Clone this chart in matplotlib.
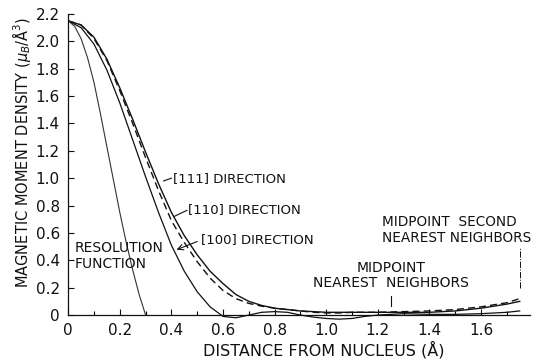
import numpy as np
import matplotlib
matplotlib.use("Agg")
import matplotlib.pyplot as plt

# distance from nucleus (Å) and magnetic moment density (muB/Å^3)
x_dir = [0, 0.05, 0.1, 0.15, 0.2, 0.25, 0.3, 0.35, 0.4, 0.45, 0.5, 0.55, 0.6,
         0.65, 0.7, 0.75, 0.8, 0.85, 0.9, 0.95, 1.0, 1.05, 1.1, 1.15, 1.2,
         1.3, 1.4, 1.5, 1.6, 1.7, 1.75]
dens_111 = [2.15, 2.12, 2.03, 1.87, 1.66, 1.43, 1.19, 0.96, 0.75, 0.58, 0.44,
            0.32, 0.23, 0.15, 0.10, 0.07, 0.05, 0.04, 0.03, 0.025, 0.02, 0.02,
            0.02, 0.02, 0.02, 0.02, 0.02, 0.03, 0.05, 0.08, 0.10]
dens_110 = [2.15, 2.12, 2.02, 1.86, 1.64, 1.40, 1.15, 0.91, 0.69, 0.53, 0.39,
            0.27, 0.18, 0.12, 0.085, 0.065, 0.05, 0.04, 0.03, 0.02, 0.015,
            0.015, 0.02, 0.02, 0.02, 0.025, 0.03, 0.04, 0.06, 0.09, 0.12]
dens_100 = [2.15, 2.10, 1.98, 1.79, 1.55, 1.28, 1.01, 0.75, 0.51, 0.32, 0.17,
            0.06, -0.01, -0.02, 0.0, 0.02, 0.025, 0.02, 0.0, -0.015, -0.025,
            -0.03, -0.025, -0.01, 0.0, 0.01, 0.005, 0.005, 0.01, 0.02, 0.03]

x_res = [0, 0.025, 0.05, 0.075, 0.1, 0.125, 0.15, 0.175, 0.2, 0.225, 0.25,
         0.275, 0.3]
dens_res = [2.15, 2.11, 2.02, 1.88, 1.70, 1.47, 1.23, 0.99, 0.75, 0.53, 0.33,
            0.15, 0.0]

x_ticks = [0, 0.2, 0.4, 0.6, 0.8, 1.0, 1.2, 1.4, 1.6]
x_ticklabels = ["0", "0.2", "0.4", "0.6", "0.8", "1.0", "1.2", "1.4", "1.6"]
y_ticks = [0, 0.2, 0.4, 0.6, 0.8, 1.0, 1.2, 1.4, 1.6, 1.8, 2.0, 2.2]
y_ticklabels = ["0", "0.2", "0.4", "0.6", "0.8", "1.0", "1.2", "1.4", "1.6",
                "1.8", "2.0", "2.2"]

mid_nn = 1.25
mid_2nn = 1.75

plt.rcParams["font.family"] = "DejaVu Sans"
fig = plt.figure(figsize=(5.37, 3.62), dpi=100)
ax = fig.add_axes([0.127, 0.1146, 0.86, 0.8467])

ink = "#111111"
ax.plot(x_dir, dens_111, color=ink, lw=1.0)
ax.plot(x_dir, dens_110, color=ink, lw=1.0, dashes=(5, 3))
ax.plot(x_dir, dens_100, color=ink, lw=0.9)
ax.plot(x_res, dens_res, color="#333333", lw=0.8)

ax.set_xlim(0, 1.79)
ax.set_ylim(-0.04, 2.2)
ax.spines["top"].set_visible(False)
ax.spines["right"].set_visible(False)
ax.spines["bottom"].set_position(("data", 0))
ax.spines["left"].set_bounds(0, 2.2)
for s in ("left", "bottom"):
    ax.spines[s].set_linewidth(0.9)
    ax.spines[s].set_color(ink)

ax.set_xticks(x_ticks)
ax.set_xticklabels(x_ticklabels)
ax.set_xticks(np.arange(0.1, 1.75, 0.2), minor=True)
ax.set_yticks(y_ticks)
ax.set_yticklabels(y_ticklabels)
ax.tick_params(axis="both", direction="in", length=4, width=0.8,
               labelsize=11, colors=ink)
ax.tick_params(axis="x", which="minor", direction="in", length=3, width=0.8)
ax.tick_params(axis="x", pad=6)
ax.tick_params(axis="y", pad=6)

fig.text(0.602, 0.035, "DISTANCE FROM NUCLEUS (Å)", ha="center", va="center",
         fontsize=11.5, color=ink)
fig.text(0.04, 0.58, r"MAGNETIC MOMENT DENSITY ($\mu_B$/Å$^3$)", rotation=90,
         ha="center", va="center", fontsize=10.5, color=ink)

# annotations
ax.text(0.025, 0.43, "RESOLUTION\nFUNCTION", ha="left", va="center",
        fontsize=10, color=ink, linespacing=1.15)

ax.plot([0.37, 0.40], [0.98, 1.0], color=ink, lw=0.8)
ax.text(0.405, 1.0, "[111] DIRECTION", ha="left", va="center",
        fontsize=9.5, color=ink)
ax.plot([0.41, 0.46], [0.72, 0.765], color=ink, lw=0.8)
ax.text(0.465, 0.77, "[110] DIRECTION", ha="left", va="center",
        fontsize=9.5, color=ink)
ax.annotate("", xy=(0.41, 0.47), xytext=(0.51, 0.545),
            arrowprops=dict(arrowstyle="->", color=ink, lw=0.8))
ax.text(0.515, 0.55, "[100] DIRECTION", ha="left", va="center",
        fontsize=9.5, color=ink)

ax.text(1.25, 0.29, "MIDPOINT\nNEAREST  NEIGHBORS", ha="center",
        va="center", fontsize=10, color=ink, linespacing=1.15,
        multialignment="center")
ax.plot([mid_nn, mid_nn], [0.065, 0.14], color=ink, lw=0.8)

ax.text(1.215, 0.62, "MIDPOINT  SECOND\nNEAREST NEIGHBORS", ha="left",
        va="center", fontsize=9.8, color=ink, linespacing=1.2, clip_on=False)
ax.plot([mid_2nn, mid_2nn], [0.2, 0.5], color=ink, lw=0.7, ls="-.")

fig.savefig("out.png", dpi=100)
